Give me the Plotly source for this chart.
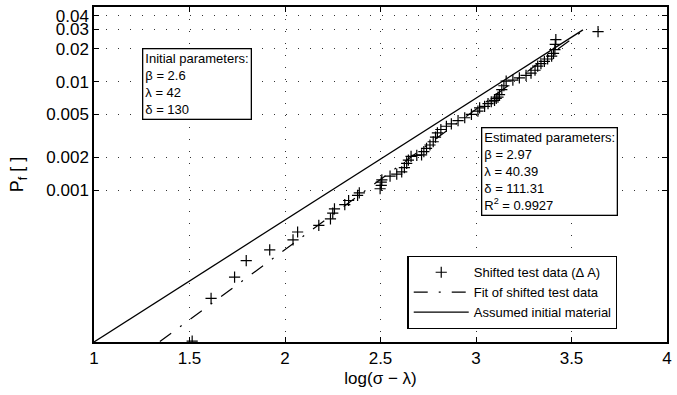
import numpy as np
import plotly.graph_objects as go

# ---- data ----
# Shifted test data: x = log(sigma - lambda), P_f
data_x = [1.514, 1.613, 1.736, 1.797, 1.920, 2.042, 2.066, 2.177, 2.238, 2.250,
          2.259, 2.313, 2.333, 2.380, 2.389, 2.498, 2.504, 2.504, 2.507, 2.550,
          2.585, 2.611, 2.625, 2.637, 2.646, 2.660, 2.690, 2.715, 2.727, 2.741,
          2.759, 2.776, 2.788, 2.798, 2.816, 2.845, 2.871, 2.906, 2.941, 2.976,
          3.010, 3.019, 3.045, 3.063, 3.080, 3.097, 3.106, 3.115, 3.123, 3.135,
          3.146, 3.158, 3.193, 3.227, 3.262, 3.288, 3.309, 3.323, 3.340, 3.358,
          3.375, 3.396, 3.406, 3.413, 3.415, 3.418, 3.639]
data_pf = [4.03e-5, 1.00e-4, 1.57e-4, 2.23e-4, 2.80e-4, 3.46e-4, 4.10e-4, 4.71e-4, 5.42e-4, 6.11e-4,
           6.69e-4, 7.32e-4, 8.01e-4, 8.94e-4, 9.40e-4, 1.028e-3, 1.103e-3, 1.183e-3, 1.243e-3, 1.347e-3,
           1.401e-3, 1.474e-3, 1.612e-3, 1.764e-3, 1.892e-3, 2.049e-3, 2.091e-3, 2.110e-3, 2.263e-3, 2.427e-3,
           2.603e-3, 2.791e-3, 3.084e-3, 3.374e-3, 3.618e-3, 3.880e-3, 4.079e-3, 4.374e-3, 4.644e-3, 4.980e-3,
           5.340e-3, 5.72e-3, 5.90e-3, 6.26e-3, 6.52e-3, 6.72e-3, 6.99e-3, 7.20e-3, 7.57e-3, 8.44e-3,
           9.15e-3, 1.010e-2, 1.031e-2, 1.083e-2, 1.138e-2, 1.196e-2, 1.270e-2, 1.388e-2, 1.459e-2, 1.533e-2,
           1.611e-2, 1.710e-2, 1.815e-2, 1.965e-2, 2.191e-2, 2.418e-2, 2.86e-2]

# Fit of shifted test data (end points)
fit_x = [1.345, 3.56]
fit_pf = [3.99e-5, 2.917e-2]

# Assumed initial material (end points)
init_x = [1.0, 3.56]
init_pf = [3.95e-5, 2.975e-2]

# Parameters shown in the boxes
init_params = {"beta": "2.6", "lam": "42", "delta": "130"}
est_params = {"beta": "2.97", "lam": "40.39", "delta": "111.31", "r2": "0.9927"}

# Axis ticks
x_ticks = [1, 1.5, 2, 2.5, 3, 3.5, 4]
x_ticklabels = ["1", "1.5", "2", "2.5", "3", "3.5", "4"]
y_ticks_pf = [0.001, 0.002, 0.005, 0.01, 0.02, 0.03, 0.04]
y_ticklabels = ["0.001", "0.002", "0.005", "0.01", "0.02", "0.03", "0.04"]
y_range_pf = [3.95e-5, 0.0479]


def weib(p):
    p = np.asarray(p, dtype=float)
    return np.log(-np.log1p(-p))


fig = go.Figure()
fig.add_trace(go.Scatter(
    x=data_x, y=weib(data_pf), mode="markers", name="Shifted test data (Δ A)",
    marker=dict(symbol="cross-thin", size=8, color="black", line=dict(color="black", width=1.2)),
))
fig.add_trace(go.Scatter(
    x=fit_x, y=weib(fit_pf), mode="lines", name="Fit of shifted test data",
    line=dict(color="black", width=1.2, dash="14px,11px,2px,11px"),
))
fig.add_trace(go.Scatter(
    x=init_x, y=weib(init_pf), mode="lines", name="Assumed initial material",
    line=dict(color="black", width=1.3),
))

axis_common = dict(
    ticks="inside", ticklen=5, tickwidth=1, tickcolor="black",
    showline=True, linecolor="black", linewidth=1.5, mirror="allticks",
    showgrid=True, gridcolor="#333333", gridwidth=1, griddash="1px,11px",
    zeroline=False, tickfont=dict(size=17, color="black"),
)

fig.update_xaxes(range=[1, 4], tickvals=x_ticks, ticktext=x_ticklabels,
                 title=dict(text="log(σ − λ)", font=dict(size=17), standoff=5), **axis_common)
fig.update_yaxes(range=list(weib(y_range_pf)), tickvals=list(weib(y_ticks_pf)), ticktext=y_ticklabels,
                 title=dict(text="P<sub>f</sub> [ ]", font=dict(size=18), standoff=18), **axis_common)

fig.add_annotation(
    text="Initial parameters:<br>β = %s<br>λ = %s<br>δ = %s" % (init_params["beta"], init_params["lam"], init_params["delta"]),
    x=0.083, y=0.8776, xref="paper", yref="paper", xanchor="left", yanchor="top",
    align="left", showarrow=False, bordercolor="black", borderwidth=1.3, borderpad=2,
    bgcolor="white", font=dict(size=13, color="black"),
)
fig.add_annotation(
    text="Estimated parameters:<br>β = %s<br>λ = %s<br>δ = %s<br>R<sup>2</sup> = %s" % (
        est_params["beta"], est_params["lam"], est_params["delta"], est_params["r2"]),
    x=0.6747, y=0.6418, xref="paper", yref="paper", xanchor="left", yanchor="top",
    align="left", showarrow=False, bordercolor="black", borderwidth=1.3, borderpad=2,
    bgcolor="white", font=dict(size=13, color="black"),
)

fig.update_layout(
    width=677, height=395,
    margin=dict(l=94, r=5, t=7, b=53),
    paper_bgcolor="white", plot_bgcolor="white",
    font=dict(family="Liberation Sans, Arial, Helvetica, sans-serif", size=13, color="black"),
    showlegend=True,
    legend=dict(x=0.547, y=0.2567, xanchor="left", yanchor="top",
                bordercolor="black", borderwidth=1.3, bgcolor="white",
                font=dict(size=13, color="black"), itemwidth=55, tracegroupgap=0),
)

fig.write_html("out.html")
